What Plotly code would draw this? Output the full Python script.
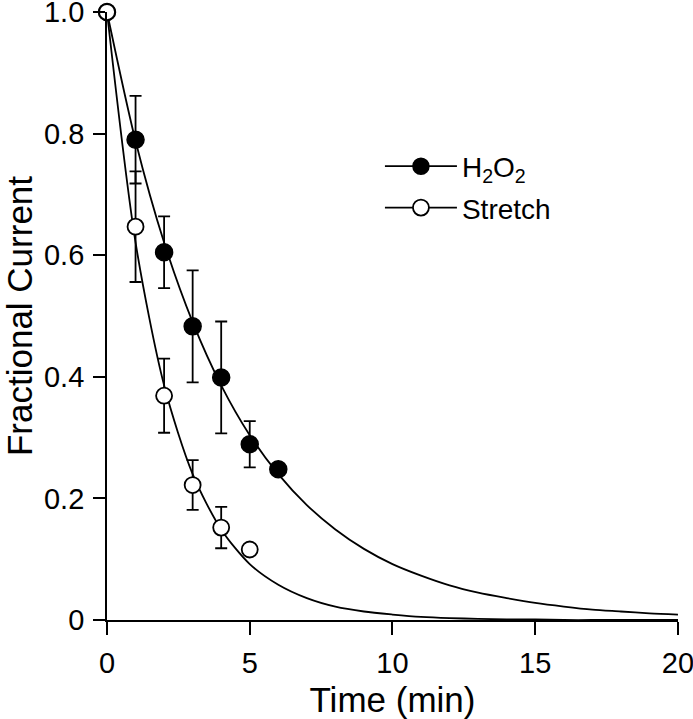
import plotly.graph_objects as go

# measured points
time_h2o2 = [0, 1, 2, 3, 4, 5, 6]
frac_h2o2 = [1.0, 0.790, 0.605, 0.483, 0.399, 0.289, 0.248]
err_h2o2 = [0, 0.072, 0.059, 0.092, 0.092, 0.038, 0]

time_stretch = [0, 1, 2, 3, 4, 5]
frac_stretch = [1.0, 0.647, 0.369, 0.222, 0.152, 0.116]
err_stretch = [0, 0.091, 0.061, 0.041, 0.034, 0]

# fitted decay curves
fit_time = list(range(0, 21))
fit_h2o2 = [1.0, 0.788, 0.621, 0.490, 0.386, 0.304, 0.240, 0.189, 0.149, 0.117, 0.092,
            0.073, 0.057, 0.045, 0.036, 0.028, 0.022, 0.017, 0.014, 0.011, 0.009]
fit_stretch = [1.0, 0.621, 0.386, 0.240, 0.149, 0.092, 0.058, 0.036, 0.022, 0.014, 0.009,
               0.005, 0.003, 0.002, 0.001, 0.001, 0.0, 0.0, 0.0, 0.0, 0.0]

x_ticks = [0, 5, 10, 15, 20]
y_ticks = [0, 0.2, 0.4, 0.6, 0.8, 1.0]
y_ticktext = ["0", "0.2", "0.4", "0.6", "0.8", "1.0"]

FONT = "Liberation Sans, Arial, sans-serif"

fig = go.Figure()

# fit curves
for ys in (fit_h2o2, fit_stretch):
    fig.add_trace(go.Scatter(
        x=fit_time, y=ys, mode='lines',
        line=dict(color='black', width=1.8, shape='spline', smoothing=0.8),
        showlegend=False, hoverinfo='skip'
    ))

# data with error bars
fig.add_trace(go.Scatter(
    x=time_h2o2, y=frac_h2o2, mode='markers',
    marker=dict(size=17, color='black', line=dict(color='black', width=1.5)),
    error_y=dict(type='data', array=err_h2o2, color='black', thickness=1.8, width=6),
    showlegend=False, cliponaxis=False
))
fig.add_trace(go.Scatter(
    x=time_stretch, y=frac_stretch, mode='markers',
    marker=dict(size=16, color='white', line=dict(color='black', width=1.8)),
    error_y=dict(type='data', array=err_stretch, color='black', thickness=1.8, width=6),
    showlegend=False, cliponaxis=False
))

# legend entries
fig.add_trace(go.Scatter(
    x=[None], y=[None], mode='lines+markers', name='H<sub>2</sub>O<sub>2</sub>',
    legendgroup='a',
    line=dict(color='black', width=1.8),
    marker=dict(size=17, color='black', line=dict(color='black', width=1.5))
))
fig.add_trace(go.Scatter(
    x=[None], y=[None], mode='lines+markers', name='Stretch',
    legendgroup='b',
    line=dict(color='black', width=1.8),
    marker=dict(size=16, color='white', line=dict(color='black', width=1.8))
))

fig.update_layout(
    width=693, height=719,
    margin=dict(l=107, r=15, t=12, b=99),
    paper_bgcolor='white', plot_bgcolor='white',
    font=dict(family=FONT, size=29, color='black'),
    showlegend=True,
    legend=dict(x=0.478, y=0.787, xanchor='left', yanchor='top', itemwidth=72,
                tracegroupgap=2, bgcolor='rgba(0,0,0,0)', font=dict(size=28)),
    xaxis=dict(
        range=[0, 20.001], tickvals=x_ticks, showgrid=False, zeroline=False,
        showline=True, linecolor='black', linewidth=1.8,
        ticks='outside', ticklen=13, tickwidth=1.8, tickcolor='black',
        ticklabelstandoff=3, ticklabeloverflow='allow', automargin=False,
        title=dict(text='Time (min)', standoff=14)
    ),
    yaxis=dict(
        range=[0, 1.0001], tickvals=y_ticks, ticktext=y_ticktext,
        showgrid=False, zeroline=False,
        showline=True, linecolor='black', linewidth=1.8,
        ticks='outside', ticklen=12, tickwidth=1.8, tickcolor='black',
        ticklabelstandoff=3, ticklabeloverflow='allow', automargin=False,
        title=dict(text='Fractional Current', standoff=27)
    ),
)

fig.write_html("out.html", config={'displayModeBar': False},
               post_script="document.body.style.margin='0px';")
